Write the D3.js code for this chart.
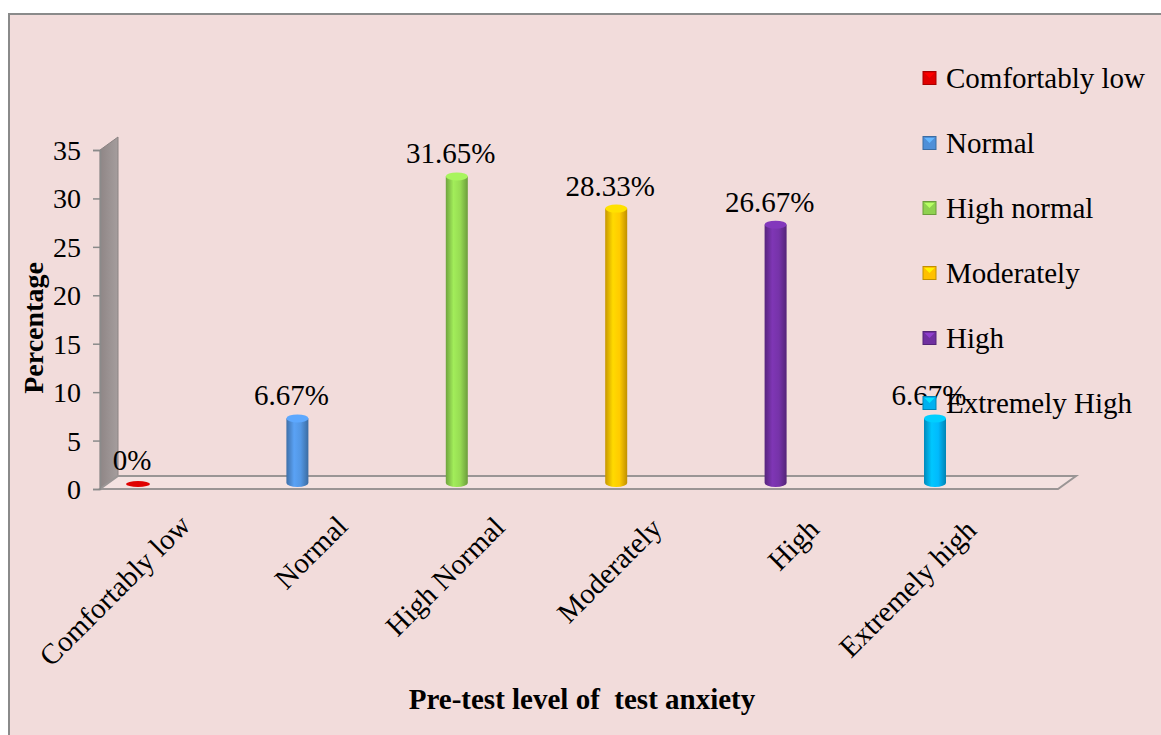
<!DOCTYPE html>
<html>
<head>
<meta charset="utf-8">
<script src="https://cdn.jsdelivr.net/npm/d3@7"></script>
<style>
  html, body { margin: 0; padding: 0; background: #ffffff; }
  svg { display: block; }
  text { font-family: "Liberation Serif", "Times New Roman", serif; fill: #000; }
</style>
</head>
<body>
<svg id="chart" width="1161" height="735"></svg>
<script>
// ---- data ----
const categories = ["Comfortably low", "Normal", "High Normal", "Moderately", "High", "Extremely high"];
const seriesNames = ["Comfortably low", "Normal", "High normal", "Moderately", "High", "Extremely High"];
const values = [0, 6.67, 31.65, 28.33, 26.67, 6.67];
const valueLabels = ["0%", "6.67%", "31.65%", "28.33%", "26.67%", "6.67%"];
const colors = ["#e00000", "#4f8fd8", "#8fd14f", "#ffc000", "#7030a0", "#00b0f0"];
const yTicks = [0, 5, 10, 15, 20, 25, 30, 35];
const yTitle = "Percentage";
const xTitle = "Pre-test level of  test anxiety";

// ---- layout ----
const svg = d3.select("#chart");
const defs = svg.append("defs");

// background panel
svg.append("rect").attr("x", 9).attr("y", 14).attr("width", 1200).attr("height", 800)
  .attr("fill", "#f2dcdb").attr("stroke", "#8a8a8a").attr("stroke-width", 2);

const y = d3.scaleLinear().domain([0, 35]).range([489, 150]);
const x = d3.scalePoint().domain(categories).range([138, 935]);
const labelX = d3.scalePoint().domain(categories).range([192, 978]);
const depthX = 18, depthY = -13;
const floorLeft = 100, floorRight = 1058;

// wall gradient
const wg = defs.append("linearGradient").attr("id", "wallGrad").attr("x1", 0).attr("x2", 1).attr("y1", 0).attr("y2", 0);
wg.append("stop").attr("offset", "0%").attr("stop-color", "#8f8686");
wg.append("stop").attr("offset", "100%").attr("stop-color", "#a59d9d");

// side wall
svg.append("polygon")
  .attr("points", [[floorLeft, y(0)], [floorLeft, y(35)], [floorLeft + depthX, y(35) + depthY], [floorLeft + depthX, y(0) + depthY]].join(" "))
  .attr("fill", "url(#wallGrad)").attr("stroke", "#8a8282").attr("stroke-width", 1);

// floor
svg.append("polygon")
  .attr("points", [[floorLeft, y(0)], [floorRight, y(0)], [floorRight + depthX, y(0) + depthY], [floorLeft + depthX, y(0) + depthY]].join(" "))
  .attr("fill", "#f4e2e1").attr("stroke", "#9a9595").attr("stroke-width", 2);

// y axis ticks & labels
const yAxis = d3.axisLeft(y).tickValues(yTicks).tickSize(7).tickPadding(12).tickFormat(d3.format("d"));
const gy = svg.append("g").attr("transform", `translate(${floorLeft},0)`).call(yAxis);
gy.select(".domain").attr("stroke", "#8a8a8a").attr("stroke-width", 1.5);
gy.selectAll(".tick line").attr("stroke", "#8a8a8a").attr("stroke-width", 1.5);
gy.selectAll(".tick text").attr("font-size", 28).attr("font-family", "Liberation Serif").attr("fill", "#000").attr("dy", "0.34em");

// cylinders
const barW = 22, capRy = 4, baseShift = -6;
colors.forEach((c, i) => {
  const g = defs.append("linearGradient").attr("id", "cyl" + i).attr("x1", 0).attr("x2", 1).attr("y1", 0).attr("y2", 0);
  const base = d3.color(c);
  g.append("stop").attr("offset", "0%").attr("stop-color", base.darker(0.7));
  g.append("stop").attr("offset", "35%").attr("stop-color", base.brighter(0.35));
  g.append("stop").attr("offset", "65%").attr("stop-color", base.brighter(0.15));
  g.append("stop").attr("offset", "100%").attr("stop-color", base.darker(0.8));
});

const bars = svg.append("g");
categories.forEach((cat, i) => {
  const cx = x(cat);
  const yb = y(0) + baseShift;
  const yt = y(values[i]) + baseShift;
  const col = d3.color(colors[i]);
  if (values[i] > 0) {
    bars.append("path")
      .attr("d", `M${cx - barW / 2},${yt} L${cx - barW / 2},${yb} A${barW / 2},${capRy} 0 0 0 ${cx + barW / 2},${yb} L${cx + barW / 2},${yt} Z`)
      .attr("fill", `url(#cyl${i})`);
    bars.append("ellipse").attr("cx", cx).attr("cy", yt).attr("rx", barW / 2).attr("ry", capRy)
      .attr("fill", col.brighter(0.45));
  } else {
    bars.append("ellipse").attr("cx", cx).attr("cy", yb + 1).attr("rx", 12).attr("ry", 3)
      .attr("fill", colors[i]);
  }
  svg.append("text").attr("x", cx - 6).attr("y", yt - 13).attr("text-anchor", "middle")
    .attr("font-size", 29).text(valueLabels[i]);
});

// x category labels
categories.forEach((cat, i) => {
  const lx = labelX(cat), ly = 527 + i;
  svg.append("text").attr("transform", `translate(${lx},${ly}) rotate(-45)`)
    .attr("text-anchor", "end").attr("font-size", 29).text(cat);
});

// axis titles
svg.append("text").attr("transform", "translate(43,328) rotate(-90)").attr("text-anchor", "middle")
  .attr("font-size", 28).attr("font-weight", "bold").text(yTitle);
svg.append("text").attr("x", 582).attr("y", 709).attr("text-anchor", "middle")
  .attr("font-size", 29).attr("font-weight", "bold").style("white-space", "pre").text(xTitle);

// legend
const legend = svg.append("g");
seriesNames.forEach((name, i) => {
  const cy = 78 + i * 65;
  const col = d3.color(colors[i]);
  const mx = 923, ms = 13;
  legend.append("rect").attr("x", mx).attr("y", cy - ms / 2).attr("width", ms).attr("height", ms)
    .attr("fill", colors[i]).attr("stroke", col.darker(0.8)).attr("stroke-width", 1);
  legend.append("polygon")
    .attr("points", [[mx + 1.5, cy - ms / 2 + 1.5], [mx + ms - 1.5, cy - ms / 2 + 1.5], [mx + ms / 2, cy]].join(" "))
    .attr("fill", col.brighter(0.7));
  legend.append("text").attr("x", 946).attr("y", cy + 10).attr("font-size", 29).text(name);
});
</script>
</body>
</html>
